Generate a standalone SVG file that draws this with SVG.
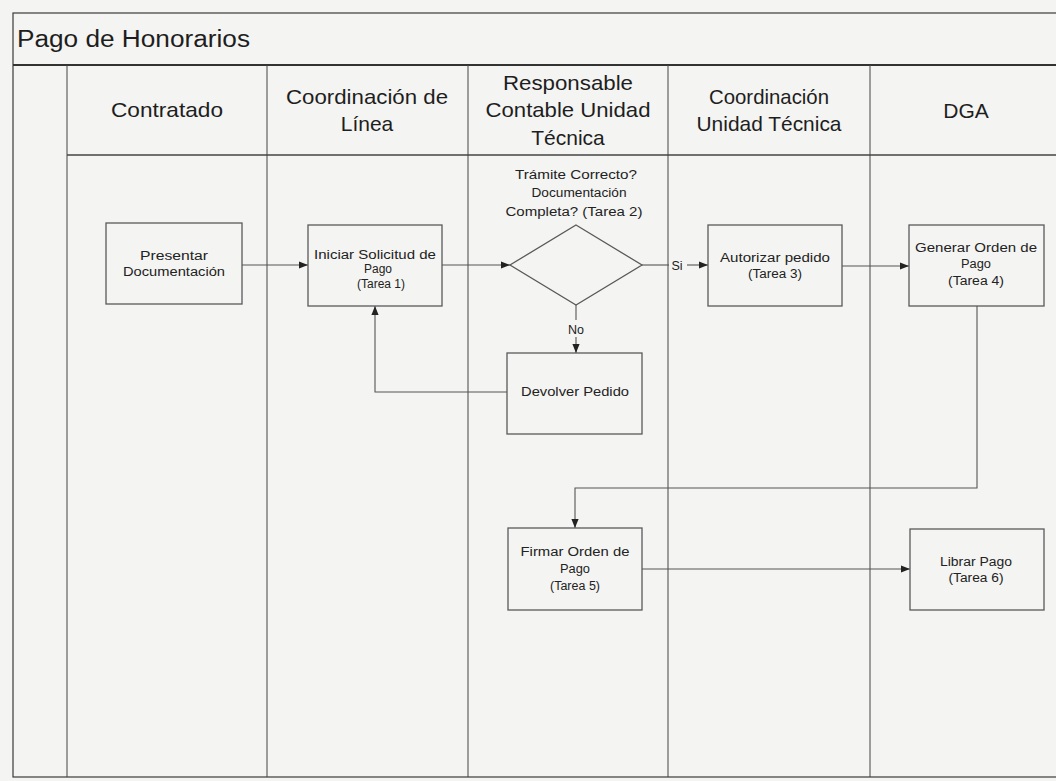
<svg xmlns="http://www.w3.org/2000/svg" width="1056" height="781" viewBox="0 0 1056 781">
<defs>
<style>
.frame{fill:none;stroke:#3a3a3a;stroke-width:1.2}
.lane{stroke:#444;stroke-width:1}
.hd{font-family:"Liberation Sans",Arial,sans-serif;font-size:21px;fill:#1e1e1e;text-anchor:middle}
.title{font-family:"Liberation Sans",Arial,sans-serif;font-size:23px;fill:#1e1e1e}
.box{fill:#f4f4f2;stroke:#5a5a5a;stroke-width:1.3}
.t{font-family:"Liberation Sans",Arial,sans-serif;font-size:12.5px;fill:#222;text-anchor:middle}
.conn{fill:none;stroke:#555;stroke-width:1.1}
</style>
<marker id="ah" viewBox="0 0 10 10" refX="10" refY="5" markerWidth="9" markerHeight="9" markerUnits="userSpaceOnUse" orient="auto">
<path d="M0,1 L10,5 L0,9 z" fill="#222"/>
</marker>
</defs>
<rect x="0" y="0" width="1056" height="781" fill="#f4f4f2"/>
<g id="pool">
<rect class="frame" x="13" y="13" width="1060" height="764"/>
<line x1="13" y1="65" x2="1056" y2="65" stroke="#333" stroke-width="1.8"/>
<line x1="67" y1="155" x2="1056" y2="155" stroke="#444" stroke-width="1.3"/>
<line class="lane" x1="67" y1="65" x2="67" y2="777"/>
<line class="lane" x1="267" y1="65" x2="267" y2="777"/>
<line class="lane" x1="468" y1="65" x2="468" y2="777"/>
<line class="lane" x1="668" y1="65" x2="668" y2="777"/>
<line class="lane" x1="870" y1="65" x2="870" y2="777"/>
<text class="title" x="17" y="47" textLength="233" lengthAdjust="spacingAndGlyphs">Pago de Honorarios</text>
<text class="hd" x="167" y="117" textLength="112" lengthAdjust="spacingAndGlyphs">Contratado</text>
<text class="hd" x="367" y="104" textLength="162" lengthAdjust="spacingAndGlyphs">Coordinación de</text>
<text class="hd" x="367" y="131">Línea</text>
<text class="hd" x="568" y="90" textLength="130" lengthAdjust="spacingAndGlyphs">Responsable</text>
<text class="hd" x="568" y="117" textLength="165" lengthAdjust="spacingAndGlyphs">Contable Unidad</text>
<text class="hd" x="568" y="145">Técnica</text>
<text class="hd" x="769" y="104" textLength="120" lengthAdjust="spacingAndGlyphs">Coordinación</text>
<text class="hd" x="769" y="131" textLength="145" lengthAdjust="spacingAndGlyphs">Unidad Técnica</text>
<text class="hd" x="966" y="118">DGA</text>
</g>
<g id="connectors">
<line class="conn" x1="242" y1="265" x2="308" y2="265" marker-end="url(#ah)"/>
<line class="conn" x1="442" y1="265" x2="510" y2="265" marker-end="url(#ah)"/>
<line class="conn" x1="642" y1="265" x2="669" y2="265"/>
<line class="conn" x1="687" y1="265" x2="708" y2="265" marker-end="url(#ah)"/>
<text class="t" x="677" y="270" font-size="13.5">Si</text>
<line class="conn" x1="576" y1="305" x2="576" y2="320"/>
<line class="conn" x1="576" y1="337" x2="576" y2="353" marker-end="url(#ah)"/>
<text class="t" x="576" y="334" font-size="13.5">No</text>
<polyline class="conn" points="507,392 375,392 375,306" marker-end="url(#ah)"/>
<line class="conn" x1="842" y1="266" x2="909" y2="266" marker-end="url(#ah)"/>
<polyline class="conn" points="977,306 977,488 575,488 575,528" marker-end="url(#ah)"/>
<line class="conn" x1="642" y1="569" x2="910" y2="569" marker-end="url(#ah)"/>
</g>
<g id="presentar">
<rect class="box" x="106" y="223" width="136" height="81"/>
<text class="t" x="174" y="260" textLength="68" lengthAdjust="spacingAndGlyphs">Presentar</text>
<text class="t" x="174" y="276" textLength="102" lengthAdjust="spacingAndGlyphs">Documentación</text>
</g>
<g id="iniciar">
<rect class="box" x="308" y="225" width="134" height="81"/>
<text class="t" x="375" y="259" textLength="122" lengthAdjust="spacingAndGlyphs">Iniciar Solicitud de</text>
<text class="t" x="378" y="273" textLength="28" lengthAdjust="spacingAndGlyphs">Pago</text>
<text class="t" x="381" y="288" textLength="48" lengthAdjust="spacingAndGlyphs">(Tarea 1)</text>
</g>
<g id="decision">
<polygon class="box" points="576,225 642,265 576,305 510,265"/>
<text class="t" x="576" y="179" textLength="122" lengthAdjust="spacingAndGlyphs">Trámite Correcto?</text>
<text class="t" x="579" y="197" textLength="95" lengthAdjust="spacingAndGlyphs">Documentación</text>
<text class="t" x="574" y="216" textLength="137" lengthAdjust="spacingAndGlyphs">Completa? (Tarea 2)</text>
</g>
<g id="autorizar">
<rect class="box" x="708" y="225" width="134" height="81"/>
<text class="t" x="775" y="262" textLength="110" lengthAdjust="spacingAndGlyphs">Autorizar pedido</text>
<text class="t" x="775" y="278" textLength="54" lengthAdjust="spacingAndGlyphs">(Tarea 3)</text>
</g>
<g id="devolver">
<rect class="box" x="507" y="353" width="135" height="81"/>
<text class="t" x="575" y="396" textLength="108" lengthAdjust="spacingAndGlyphs">Devolver Pedido</text>
</g>
<g id="generar">
<rect class="box" x="909" y="225" width="135" height="81"/>
<text class="t" x="976" y="252" textLength="122" lengthAdjust="spacingAndGlyphs">Generar Orden de</text>
<text class="t" x="976" y="268" textLength="30" lengthAdjust="spacingAndGlyphs">Pago</text>
<text class="t" x="976" y="285" textLength="56" lengthAdjust="spacingAndGlyphs">(Tarea 4)</text>
</g>
<g id="firmar">
<rect class="box" x="508" y="528" width="134" height="82"/>
<text class="t" x="575" y="556" textLength="109" lengthAdjust="spacingAndGlyphs">Firmar Orden de</text>
<text class="t" x="575" y="573" textLength="30" lengthAdjust="spacingAndGlyphs">Pago</text>
<text class="t" x="575" y="590" textLength="50" lengthAdjust="spacingAndGlyphs">(Tarea 5)</text>
</g>
<g id="librar">
<rect class="box" x="910" y="529" width="134" height="81"/>
<text class="t" x="976" y="566" textLength="72" lengthAdjust="spacingAndGlyphs">Librar Pago</text>
<text class="t" x="976" y="582" textLength="55" lengthAdjust="spacingAndGlyphs">(Tarea 6)</text>
</g>
</svg>
